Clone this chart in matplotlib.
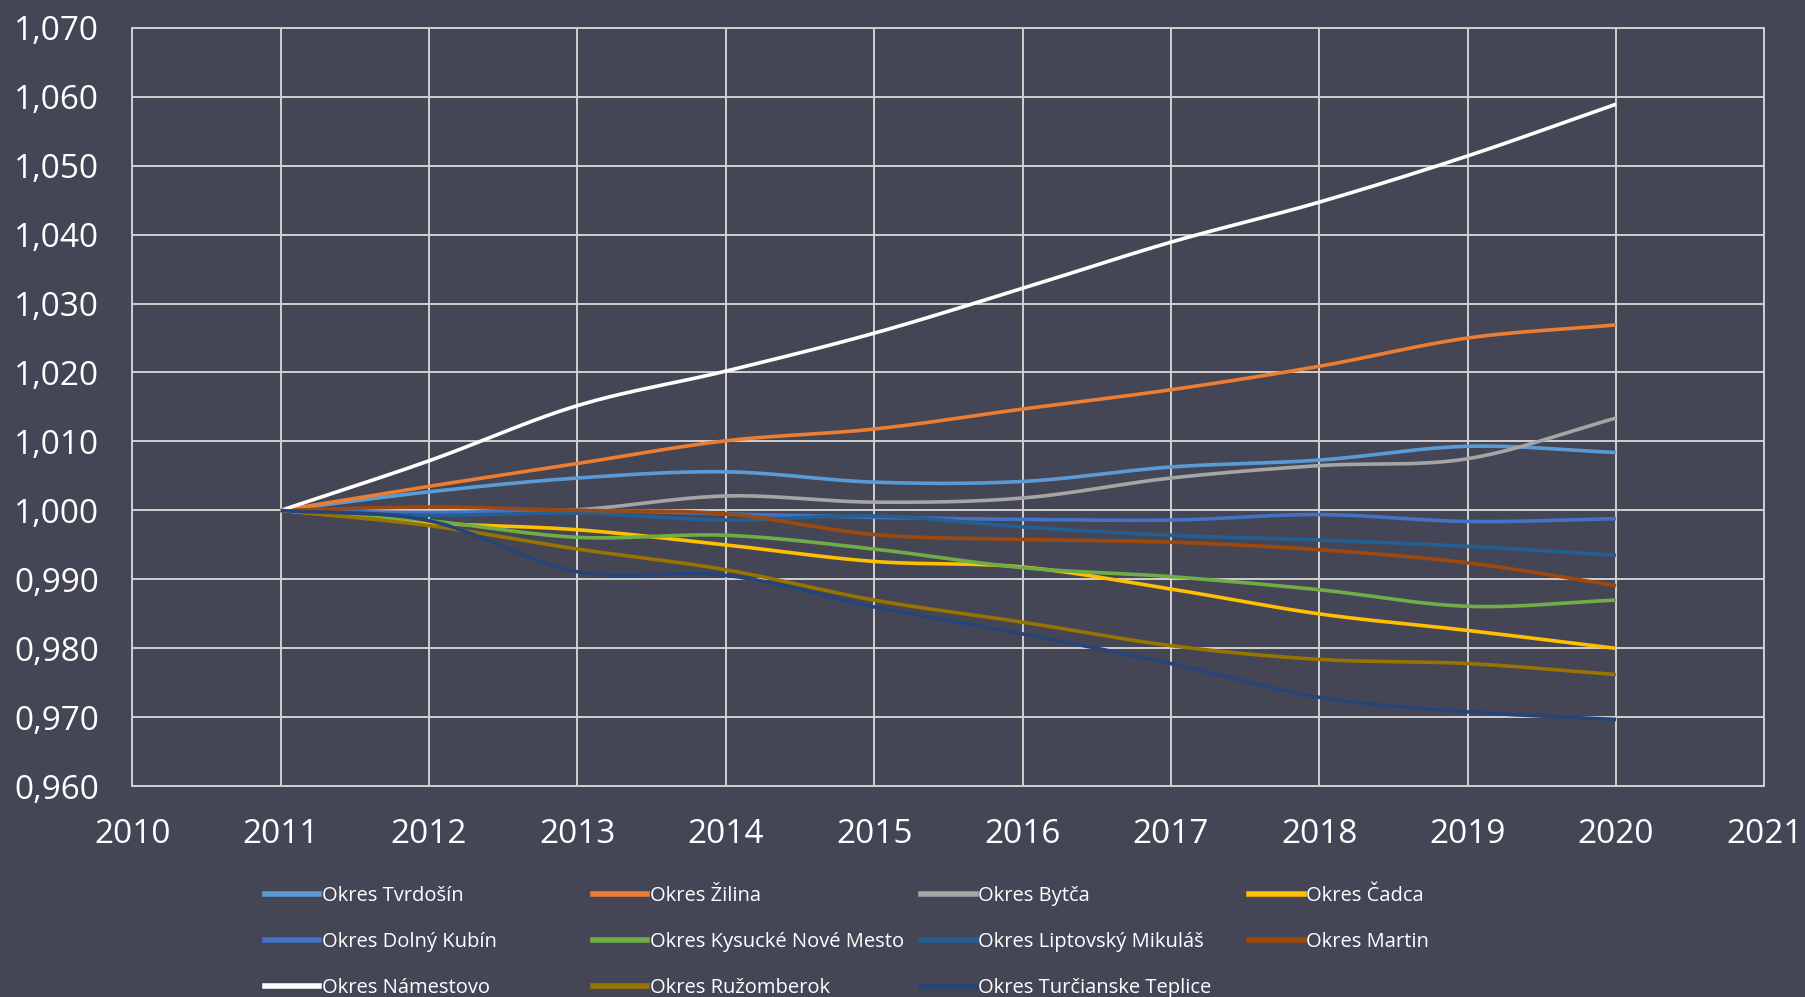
import numpy as np
import matplotlib.pyplot as plt
from matplotlib.lines import Line2D
from matplotlib.ticker import FuncFormatter, MultipleLocator

# data (index 2011 = 1.000)
years = [2011, 2012, 2013, 2014, 2015, 2016, 2017, 2018, 2019, 2020]

tvrdosin = [1.0000, 1.0027, 1.0047, 1.0056, 1.0041, 1.0042, 1.0063, 1.0073, 1.0093, 1.0084]
zilina = [1.0000, 1.0035, 1.0068, 1.0101, 1.0118, 1.0147, 1.0175, 1.0209, 1.0250, 1.0269]
bytca = [1.0000, 0.9996, 1.0001, 1.0021, 1.0012, 1.0018, 1.0047, 1.0065, 1.0075, 1.0134]
cadca = [1.0000, 0.9982, 0.9972, 0.9950, 0.9926, 0.9918, 0.9886, 0.9850, 0.9826, 0.9800]
dolny_kubin = [1.0000, 0.9997, 1.0000, 0.9995, 0.9990, 0.9987, 0.9986, 0.9994, 0.9984, 0.9988]
kysucke = [1.0000, 0.9985, 0.9961, 0.9964, 0.9944, 0.9917, 0.9904, 0.9885, 0.9861, 0.9870]
liptovsky = [1.0000, 0.9993, 0.9996, 0.9986, 0.9992, 0.9976, 0.9964, 0.9957, 0.9948, 0.9935]
martin = [1.0000, 1.0005, 1.0000, 0.9995, 0.9965, 0.9958, 0.9954, 0.9943, 0.9924, 0.9891]
namestovo = [1.0000, 1.0072, 1.0152, 1.0202, 1.0257, 1.0322, 1.0389, 1.0447, 1.0514, 1.0589]
ruzomberok = [1.0000, 0.9978, 0.9944, 0.9914, 0.9870, 0.9838, 0.9804, 0.9784, 0.9778, 0.9762]
turcianske = [1.0000, 0.9985, 0.9911, 0.9906, 0.9860, 0.9821, 0.9778, 0.9729, 0.9708, 0.9697]

series = [
    ('Okres Tvrdošín', tvrdosin, '#5B9BD5'),
    ('Okres Žilina', zilina, '#ED7D31'),
    ('Okres Bytča', bytca, '#A5A5A5'),
    ('Okres Čadca', cadca, '#FFC000'),
    ('Okres Dolný Kubín', dolny_kubin, '#4472C4'),
    ('Okres Kysucké Nové Mesto', kysucke, '#70AD47'),
    ('Okres Liptovský Mikuláš', liptovsky, '#255E91'),
    ('Okres Martin', martin, '#9E480E'),
    ('Okres Námestovo', namestovo, '#FFFFFF'),
    ('Okres Ružomberok', ruzomberok, '#997300'),
    ('Okres Turčianske Teplice', turcianske, '#264478'),
]


def smooth(x, y, n=24):
    # catmull-rom curve through the points, like excel's smoothed lines
    x = np.asarray(x, float)
    y = np.asarray(y, float)
    px = np.concatenate([[2 * x[0] - x[1]], x, [2 * x[-1] - x[-2]]])
    py = np.concatenate([[2 * y[0] - y[1]], y, [2 * y[-1] - y[-2]]])
    xs, ys = [], []
    t = np.linspace(0, 1, n, endpoint=False)
    for i in range(1, len(px) - 2):
        for p, out in ((px, xs), (py, ys)):
            p0, p1, p2, p3 = p[i - 1], p[i], p[i + 1], p[i + 2]
            out.extend(0.5 * (2 * p1 + (-p0 + p2) * t
                              + (2 * p0 - 5 * p1 + 4 * p2 - p3) * t ** 2
                              + (-p0 + 3 * p1 - 3 * p2 + p3) * t ** 3))
    xs.append(x[-1])
    ys.append(y[-1])
    return np.array(xs), np.array(ys)


bg = '#444656'
grid_c = '#D0D0D0'
plt.rcParams['font.family'] = ['Open Sans', 'DejaVu Sans']

fig = plt.figure(figsize=(18.06, 9.97), dpi=100, facecolor=bg)
ax = fig.add_axes([0.0733, 0.2113, 0.977 - 0.0733, 0.9723 - 0.2113])
ax.set_facecolor(bg)

handles = {}
for name, vals, col in series:
    sx, sy = smooth(years, vals)
    ax.plot(sx, sy, color=col, lw=2.6, solid_capstyle='butt')
    handles[name] = Line2D([], [], color=col, lw=4)

ax.set_xlim(2010, 2021)
ax.set_ylim(0.960, 1.070)
ax.xaxis.set_major_locator(MultipleLocator(1))
ax.yaxis.set_major_locator(MultipleLocator(0.01))
ax.yaxis.set_major_formatter(FuncFormatter(lambda v, p: f'{v:.3f}'.replace('.', ',')))
ax.grid(True, color=grid_c, lw=1.4)
ax.set_axisbelow(True)
for s in ax.spines.values():
    s.set_color(grid_c)
    s.set_linewidth(1.4)
ax.tick_params(length=0, labelsize=24, colors='white')
ax.tick_params(axis='y', pad=24)
ax.tick_params(axis='x', pad=23)

# legend laid out in four fixed-width columns like the original
cols = [
    ['Okres Tvrdošín', 'Okres Dolný Kubín', 'Okres Námestovo'],
    ['Okres Žilina', 'Okres Kysucké Nové Mesto', 'Okres Ružomberok'],
    ['Okres Bytča', 'Okres Liptovský Mikuláš', 'Okres Turčianske Teplice'],
    ['Okres Čadca', 'Okres Martin'],
]
col_x = [0.1467, 0.3284, 0.5101, 0.6918]
for cx, names in zip(col_x, cols):
    leg = fig.legend([handles[n] for n in names], names, loc='upper left',
                     bbox_to_anchor=(cx, 0.111), frameon=False, fontsize=14.5,
                     handlelength=2.7, handletextpad=0.12, labelspacing=1.28,
                     borderpad=0, borderaxespad=0)
    for t in leg.get_texts():
        t.set_color('white')

fig.savefig('out.png', dpi=100, facecolor=bg)
